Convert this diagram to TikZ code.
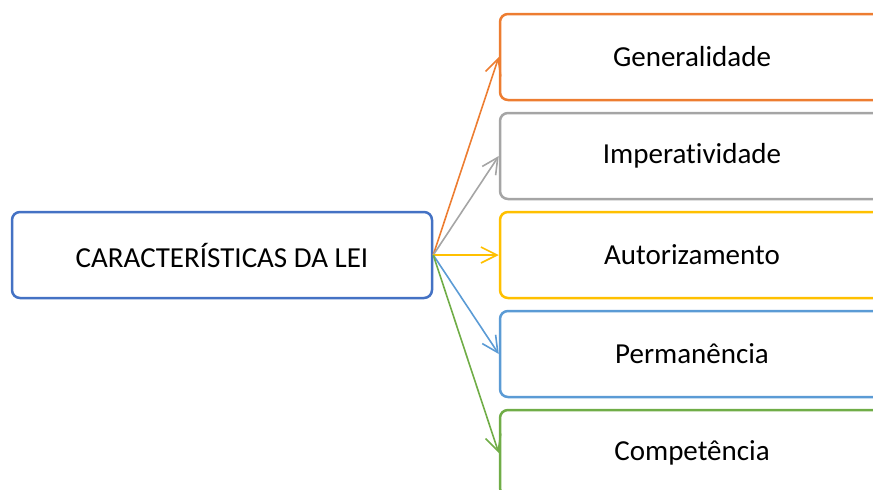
\documentclass[tikz,border=0pt]{standalone}
\usepackage{fontspec}
\setmainfont{Carlito}[Ligatures=NoCommon]
\usetikzlibrary{positioning,arrows.meta}
\definecolor{azul}{HTML}{4472C4}
\definecolor{laranja}{HTML}{ED7D31}
\definecolor{cinza}{HTML}{A5A5A5}
\definecolor{ouro}{HTML}{FFC000}
\definecolor{celeste}{HTML}{5B9BD5}
\definecolor{verde}{HTML}{70AD47}

\begin{document}
\begin{tikzpicture}[x=1pt, y=-1pt, node distance={10.5pt},
  caixa/.style = {draw, rounded corners=8pt, line width=2.5pt, minimum width=384pt, minimum height=86pt, font=\fontsize{29}{33}\selectfont},
  seta/.style = {line width=1.6pt, -{Straight Barb[length=16pt,width=16pt]}}]
\useasboundingbox (0,0) rectangle (873,490);
\clip (0,0) rectangle (873,490);

\node[caixa, draw=azul, minimum width=420pt] (lei) at (222,255) {CARACTERÍSTICAS DA LEI};

\node[caixa, draw=laranja] (gen) at (692,57) {Generalidade};
\node[caixa, draw=cinza] (imp) [below=of gen] {Imperatividade};
\node[caixa, draw=ouro] (aut) [below=of imp] {Autorizamento};
\node[caixa, draw=celeste] (per) [below=of aut] {Permanência};
\node[caixa, draw=verde] (com) [below=of per] {Competência};

\draw[seta, laranja] (lei.east) -- (gen.west);
\draw[seta, cinza] (lei.east) -- (imp.west);
\draw[seta, ouro] (lei.east) -- (aut.west);
\draw[seta, celeste] (lei.east) -- (per.west);
\draw[seta, verde] (lei.east) -- (com.west);

\end{tikzpicture}
\end{document}
